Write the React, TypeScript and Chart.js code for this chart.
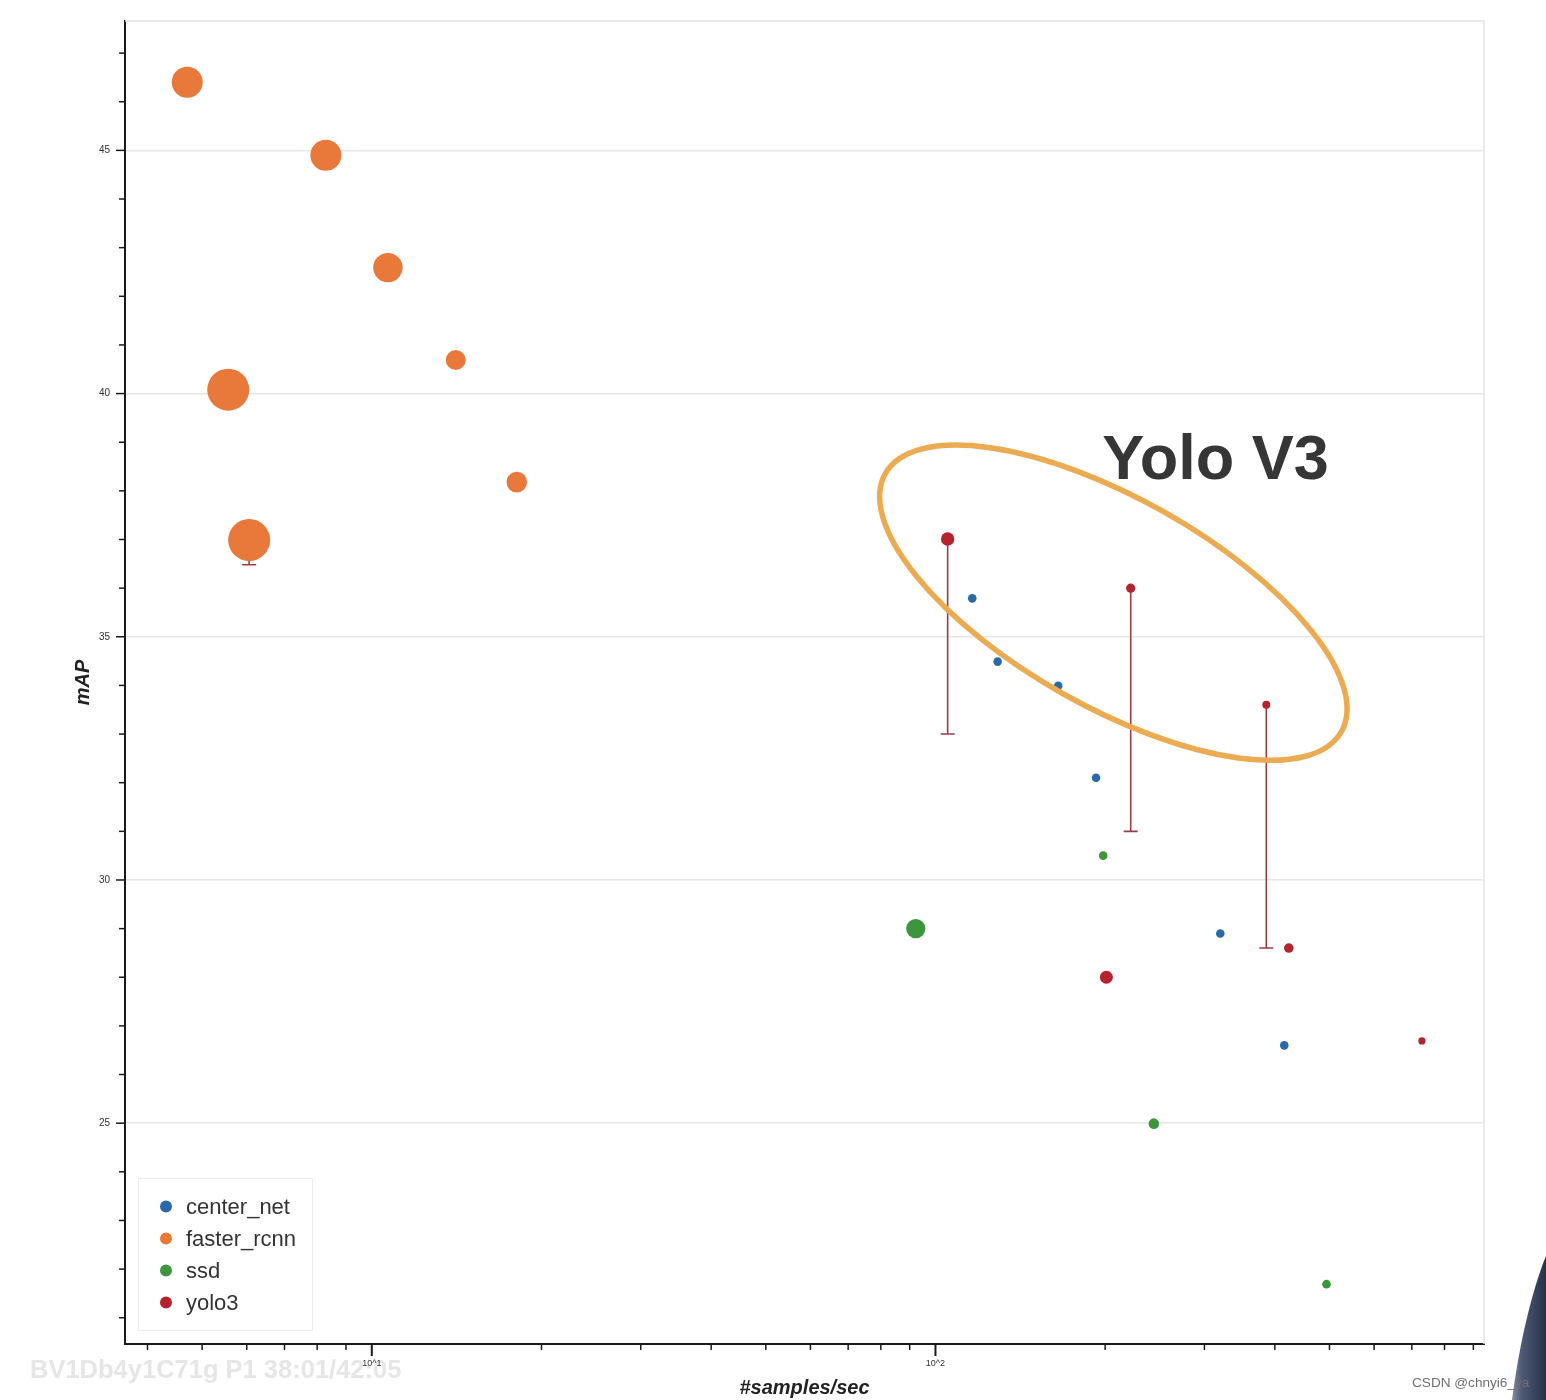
import React, { useEffect, useRef } from "react";
import { Chart, registerables } from "chart.js";

Chart.register(...registerables);

// ---------- data ----------
const seriesNames = ["center_net", "faster_rcnn", "ssd", "yolo3"];
const seriesColors = ["#2b6aa8", "#e8793b", "#3e963c", "#b5232f"];

const centerNetSpeed = [116.2, 128.9, 165.1, 192.7, 320.1, 415.7];
const centerNetMap = [35.79, 34.49, 33.99, 32.1, 28.9, 26.6];
const centerNetSize = [4.3, 4.3, 4.3, 4.3, 4.3, 4.3];

const fasterSpeed = [4.705, 8.288, 10.68, 14.09, 5.563, 18.08, 6.059];
const fasterMap = [46.4, 44.9, 42.59, 40.69, 40.08, 38.18, 36.99];
const fasterSize = [15.5, 15.5, 14.7, 10, 21, 10.3, 21];
const fasterLow = [null, null, null, null, null, null, 36.48];

const ssdSpeed = [92.27, 198.4, 244.0, 494.0];
const ssdMap = [29.0, 30.5, 24.99, 21.69];
const ssdSize = [9.6, 4.3, 5.3, 4.3];

const yoloSpeed = [105.1, 222.0, 386.3, 423.5, 201.0, 729.4];
const yoloMap = [37.01, 36.0, 33.6, 28.6, 28.0, 26.69];
const yoloSize = [6.7, 4.6, 4.0, 4.8, 6.5, 3.6];
const yoloLow = [33.0, 31.0, 28.6, null, null, null];

const xTickValues = [4, 5, 6, 7, 8, 9, 10, 20, 30, 40, 50, 60, 70, 80, 90, 100, 200, 300, 400, 500, 600, 700, 800, 900];
const xTickLabels: Record<number, string> = { 10: "10^1", 100: "10^2" };
const xRange = [3.649, 940];
const yRange = [20.46, 47.66];
const yLabelEvery = 5;

const annotationText = "Yolo V3";
const annotationCenter = { x: 206.8, y: 35.7 };
const watermarkLeft = "BV1Db4y1C71g P1 38:01/42:05";
const watermarkRight = "CSDN @chnyi6_ya";

const FONT = "'Liberation Sans', Arial, Helvetica, sans-serif";

function makeSet(label: string, color: string, xs: number[], ys: number[], rs: number[], lows?: (number | null)[]) {
  return {
    label,
    data: xs.map((x, i) => ({ x, y: ys[i], r: rs[i] })),
    backgroundColor: color,
    borderColor: color,
    borderWidth: 0,
    hoverRadius: 0,
    errorLow: lows || null,
  } as any;
}

const decorPlugin = {
  id: "decor",
  beforeDraw(chart: any) {
    const ctx = chart.ctx;
    ctx.save();
    ctx.fillStyle = "#ffffff";
    ctx.fillRect(0, 0, chart.width, chart.height);
    ctx.font = `bold 25.5px ${FONT}`;
    ctx.fillStyle = "#e6e6e6";
    ctx.textBaseline = "middle";
    ctx.textAlign = "left";
    ctx.fillText(watermarkLeft, 30, 1371);
    ctx.restore();
  },
  beforeDatasetsDraw(chart: any) {
    const ctx = chart.ctx;
    const { left, right, top, bottom } = chart.chartArea;
    ctx.save();
    ctx.strokeStyle = "#e4e4e4";
    ctx.lineWidth = 1.5;
    ctx.beginPath();
    ctx.moveTo(left, top);
    ctx.lineTo(right, top);
    ctx.lineTo(right, bottom);
    ctx.stroke();
    const ys = chart.scales.y;
    chart.data.datasets.forEach((ds: any, di: number) => {
      if (!ds.errorLow) return;
      const meta = chart.getDatasetMeta(di);
      ds.errorLow.forEach((low: number | null, i: number) => {
        if (low == null) return;
        const el = meta.data[i];
        const yLow = ys.getPixelForValue(low);
        ctx.strokeStyle = "#9e3a45";
        ctx.lineWidth = 1.6;
        ctx.beginPath();
        ctx.moveTo(el.x, el.y);
        ctx.lineTo(el.x, yLow);
        ctx.moveTo(el.x - 7, yLow);
        ctx.lineTo(el.x + 7, yLow);
        ctx.stroke();
      });
    });
    ctx.restore();
  },
  afterDatasetsDraw(chart: any) {
    const ctx = chart.ctx;
    const cx = chart.scales.x.getPixelForValue(annotationCenter.x);
    const cy = chart.scales.y.getPixelForValue(annotationCenter.y);
    ctx.save();
    ctx.strokeStyle = "#eaab52";
    ctx.lineWidth = 5.5;
    ctx.beginPath();
    ctx.ellipse(cx, cy, 262, 104, (29.5 * Math.PI) / 180, 0, Math.PI * 2);
    ctx.stroke();
    ctx.font = `bold 63px ${FONT}`;
    ctx.fillStyle = "#363636";
    ctx.textAlign = "left";
    ctx.textBaseline = "alphabetic";
    ctx.fillText(annotationText, cx - 11, cy - 124);
    ctx.restore();
  },
  afterDraw(chart: any) {
    const ctx = chart.ctx;
    const { left, bottom } = chart.chartArea;
    const xs = chart.scales.x;
    const ys = chart.scales.y;
    ctx.save();
    ctx.strokeStyle = "#1a1a1a";
    ctx.lineWidth = 1.5;
    ys.ticks.forEach((t: any) => {
      const p = ys.getPixelForValue(t.value);
      const len = t.value % yLabelEvery === 0 ? 9 : 6;
      ctx.beginPath();
      ctx.moveTo(left - len, p);
      ctx.lineTo(left, p);
      ctx.stroke();
    });
    xs.ticks.forEach((t: any) => {
      const p = xs.getPixelForValue(t.value);
      const major = xTickLabels[t.value] !== undefined;
      ctx.lineWidth = major ? 2 : 1.5;
      ctx.beginPath();
      ctx.moveTo(p, bottom);
      ctx.lineTo(p, bottom + (major ? 12 : 6));
      ctx.stroke();
    });
    // legend
    const bx = left + 13;
    const by = bottom - 166;
    ctx.fillStyle = "#ffffff";
    ctx.fillRect(bx, by, 174, 152);
    ctx.strokeStyle = "#ececec";
    ctx.lineWidth = 1;
    ctx.strokeRect(bx + 0.5, by + 0.5, 174, 152);
    chart.data.datasets.forEach((ds: any, i: number) => {
      const yy = by + 28.5 + i * 32;
      ctx.fillStyle = ds.backgroundColor;
      ctx.beginPath();
      ctx.arc(left + 41, yy, 6, 0, Math.PI * 2);
      ctx.fill();
      ctx.fillStyle = "#333333";
      ctx.font = `22px ${FONT}`;
      ctx.textAlign = "left";
      ctx.textBaseline = "middle";
      ctx.fillText(ds.label, left + 61, yy + 1);
    });
    // corner shape
    const g = ctx.createLinearGradient(1508, 0, 1546, 0);
    g.addColorStop(0, "#9aa3b8");
    g.addColorStop(0.35, "#4f5a74");
    g.addColorStop(1, "#27314a");
    ctx.fillStyle = g;
    ctx.beginPath();
    ctx.moveTo(1546, 1256);
    ctx.bezierCurveTo(1532, 1290, 1519, 1345, 1512, 1400);
    ctx.lineTo(1546, 1400);
    ctx.closePath();
    ctx.fill();
    ctx.font = `13.6px ${FONT}`;
    ctx.textAlign = "left";
    ctx.textBaseline = "middle";
    ctx.fillStyle = "#707070";
    ctx.fillText(watermarkRight, 1412, 1383);
    ctx.restore();
  },
};

export default function App() {
  const ref = useRef<HTMLCanvasElement | null>(null);

  useEffect(() => {
    if (!ref.current) return;
    const titleFont = { family: FONT, size: 20, style: "italic" as const, weight: "bold" as const };
    const chart = new Chart(ref.current, {
      type: "bubble",
      data: {
        datasets: [
          makeSet(seriesNames[0], seriesColors[0], centerNetSpeed, centerNetMap, centerNetSize),
          makeSet(seriesNames[1], seriesColors[1], fasterSpeed, fasterMap, fasterSize, fasterLow),
          makeSet(seriesNames[2], seriesColors[2], ssdSpeed, ssdMap, ssdSize),
          makeSet(seriesNames[3], seriesColors[3], yoloSpeed, yoloMap, yoloSize, yoloLow),
        ],
      },
      options: {
        animation: false,
        responsive: false,
        devicePixelRatio: 1,
        events: [],
        layout: { padding: { top: 20, right: 62, bottom: 0, left: 0 } },
        plugins: { legend: { display: false }, tooltip: { enabled: false } },
        scales: {
          x: {
            type: "logarithmic",
            min: xRange[0],
            max: xRange[1],
            afterBuildTicks: (s: any) => {
              s.ticks = xTickValues.map((v) => ({ value: v }));
            },
            afterFit: (s: any) => {
              s.height = 56;
            },
            ticks: {
              autoSkip: false,
              maxRotation: 0,
              padding: 14,
              color: "#333",
              font: { family: FONT, size: 9 },
              callback: (v: any) => xTickLabels[Number(v)] ?? "",
            },
            grid: { display: false, drawTicks: false },
            border: { display: true, color: "#1a1a1a", width: 2 },
            title: { display: true, text: "#samples/sec", color: "#222", font: titleFont, padding: { top: 0, bottom: 0 } },
          },
          y: {
            type: "linear",
            min: yRange[0],
            max: yRange[1],
            afterFit: (s: any) => {
              s.width = 125;
            },
            ticks: {
              stepSize: 1,
              includeBounds: false,
              autoSkip: false,
              padding: 15,
              color: "#333",
              font: { family: FONT, size: 10 },
              callback: (v: any) => (Number(v) % yLabelEvery === 0 ? String(v) : ""),
            },
            grid: {
              drawTicks: false,
              lineWidth: 1.5,
              color: (c: any) => (c.tick && c.tick.value % yLabelEvery === 0 ? "#e6e6e6" : "rgba(0,0,0,0)"),
            },
            border: { display: true, color: "#1a1a1a", width: 2 },
            title: { display: true, text: "mAP", color: "#222", font: titleFont, padding: { top: 71, bottom: 0 } },
          },
        },
      } as any,
      plugins: [decorPlugin],
    });
    return () => chart.destroy();
  }, []);

  return (
    <div style={{ position: "fixed", left: 0, top: 0, width: 1546, height: 1400, background: "#fff" }}>
      <canvas ref={ref} width={1546} height={1400} style={{ display: "block", width: 1546, height: 1400 }} />
    </div>
  );
}
